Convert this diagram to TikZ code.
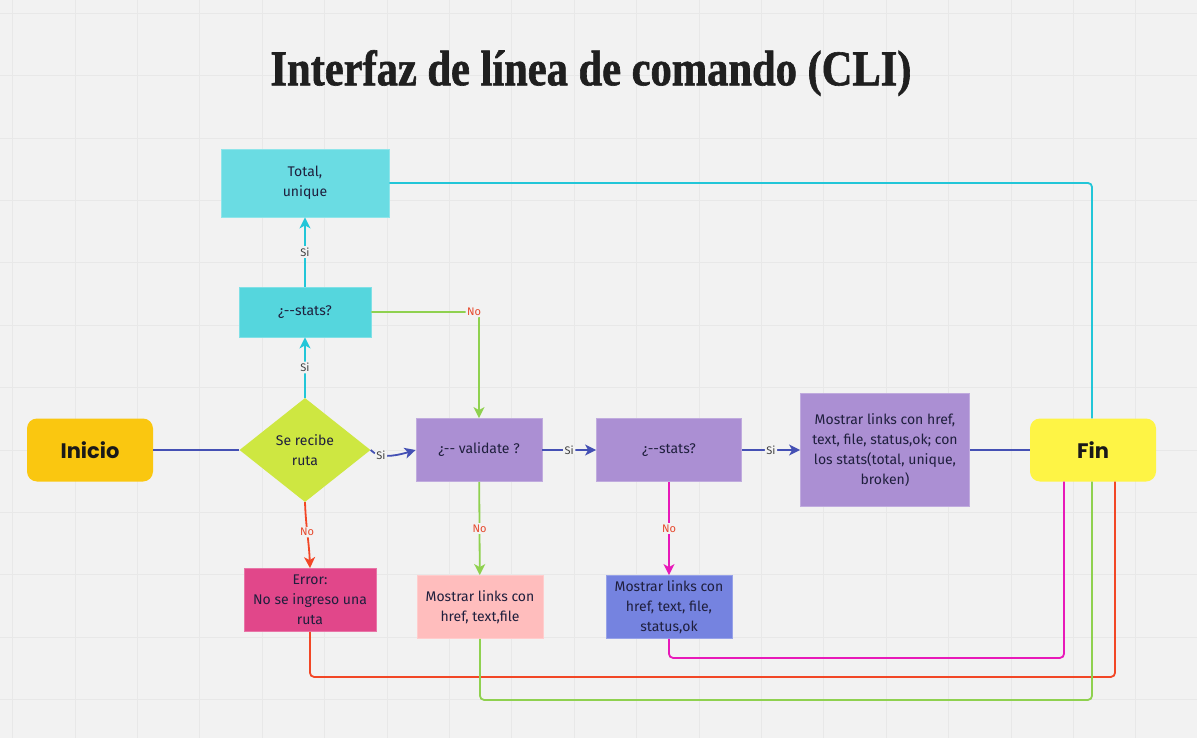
\documentclass[tikz,border=0pt]{standalone}
\usepackage{fontspec}
\setmainfont{Fira Sans}
\newfontfamily\titlefont{Liberation Serif}[FakeStretch=0.85,FakeBold=1.2]
\newfontfamily\popfont{Poppins}
\usetikzlibrary{arrows.meta,shapes.geometric}

\definecolor{bgcol}{HTML}{F2F2F2}
\definecolor{gridcol}{HTML}{E8E8E8}
\definecolor{txtcol}{HTML}{1F1F3D}
\definecolor{lblgray}{HTML}{404040}
\definecolor{nored}{HTML}{E6492D}
\definecolor{totfill}{HTML}{6ADCE3}
\definecolor{cyfill}{HTML}{55D6DD}
\definecolor{inifill}{HTML}{FAC710}
\definecolor{diafill}{HTML}{CEE741}
\definecolor{purfill}{HTML}{AB8FD3}
\definecolor{finfill}{HTML}{FEF445}
\definecolor{errfill}{HTML}{E1478A}
\definecolor{pnkfill}{HTML}{FFBDBD}
\definecolor{blufill}{HTML}{7583E0}
\definecolor{bluline}{HTML}{4450B4}
\definecolor{cyline}{HTML}{22C6D8}
\definecolor{grline}{HTML}{8FD14F}
\definecolor{redline}{HTML}{F24726}
\definecolor{magline}{HTML}{E819B9}

\begin{document}
\begin{tikzpicture}[x=1pt,y=-1pt,
    box/.style={rectangle,align=center,inner sep=2pt,text=txtcol,
      font=\fontsize{14}{20}\selectfont,draw=#1!75!white,line width=0.8pt,fill=#1},
    term/.style={rectangle,rounded corners=10pt,minimum width=126pt,minimum height=63pt,
      fill=#1,font=\popfont\bfseries\fontsize{21}{24}\selectfont,text=black!90},
    lbl/.style={fill=bgcol,inner sep=1.5pt,font=\fontsize{11}{13}\selectfont,text=lblgray},
    nolbl/.style={lbl,text=nored},
    conn/.style={line width=1.8pt,rounded corners=4pt},
    tip/.style={-{Stealth[length=11pt,width=11pt,inset=3pt]}}]
  \useasboundingbox (0,0) rectangle (1197,738);
  \fill[bgcol] (0,0) rectangle (1197,738);
  \foreach \k in {0,...,18}
    \draw[gridcol,line width=0.8pt] ({12.6+\k*62.4},0) -- ++(0,738);
  \foreach \k in {0,...,11}
    \draw[gridcol,line width=0.8pt] (0,{13.2+\k*62.4}) -- ++(1197,0);

  \node[font=\titlefont\bfseries\fontsize{50}{56}\selectfont,text=black!88] (title) at (591,73) {Interfaz de línea de comando (CLI)};

  % nodes
  \node[term=inifill] (ini) at (90,450) {Inicio};
  \node[diamond,fill=diafill,minimum width=131pt,minimum height=104pt,aspect=1.26,inner sep=0pt,
    align=center,text=txtcol,font=\fontsize{14}{20}\selectfont] (dia) at (305,450) {Se recibe\\ruta};
  \node[box=cyfill,minimum width=132pt,minimum height=50pt] (cst) at (305,312) {¿-{}-stats?};
  \node[box=totfill,minimum width=168pt,minimum height=68pt] (tot) at (305,183) {Total,\\unique};
  \node[box=purfill,minimum width=126pt,minimum height=63pt] (val) at (479,450) {¿-{}- validate ?};
  \node[box=purfill,minimum width=145pt,minimum height=63pt] (pst) at (669,450) {¿-{}-stats?};
  \node[box=purfill,minimum width=169pt,minimum height=113pt] (all) at (885,450)
    {Mostrar links con href,\\text, file, status,ok; con\\los stats(total, unique,\\broken)};
  \node[term=finfill] (fin) at (1093,450) {Fin};
  \node[box=errfill,minimum width=132pt,minimum height=63pt] (err) at (310,600) {Error:\\No se ingreso una\\ruta};
  \node[box=pnkfill,minimum width=126pt,minimum height=63pt] (pnk) at (480,607) {Mostrar links con\\href, text,file};
  \node[box=blufill,minimum width=126pt,minimum height=63pt] (blu) at (669,607) {Mostrar links con\\href, text, file,\\status,ok};

  % main row
  \draw[conn,bluline] (ini) -- (dia);
  \draw[conn,bluline,tip] (dia.east) .. controls (378,458) and (392,457) .. (val.west) node[lbl,pos=0.35] {Si};
  \draw[conn,bluline,tip] (val) -- (pst) node[lbl,midway] {Si};
  \draw[conn,bluline,tip] (pst) -- (all) node[lbl,midway] {Si};
  \draw[conn,bluline] (all) -- (fin);

  % up branch
  \draw[conn,cyline,tip] (dia.north) -- (cst) node[lbl,midway] {Si};
  \draw[conn,cyline,tip] (cst) -- (tot) node[lbl,midway] {Si};
  \draw[conn,grline,tip] (cst.east) -| node[nolbl,pos=0.5,xshift=-5pt] {No} (val.north);
  \draw[conn,cyline] (tot.east) -| ([xshift=-1pt]fin.north);

  % down branch
  \draw[conn,redline,tip] (dia.south) to[out=-88,in=92] node[nolbl,pos=0.45] {No} (err.north);
  \draw[conn,grline,tip] (val) -- (pnk) node[nolbl,midway] {No};
  \draw[conn,magline,tip] (pst) -- (blu) node[nolbl,midway] {No};

  % back to Fin
  \draw[conn,magline] (blu.south) -- ++(0,19) -| ([xshift=-29pt]fin.south);
  \draw[conn,redline] (err.south) -- ++(0,45) -| ([xshift=22pt]fin.south);
  \draw[conn,grline] (pnk.south) -- ++(0,61) -| ([xshift=-1pt]fin.south);
\end{tikzpicture}
\end{document}
